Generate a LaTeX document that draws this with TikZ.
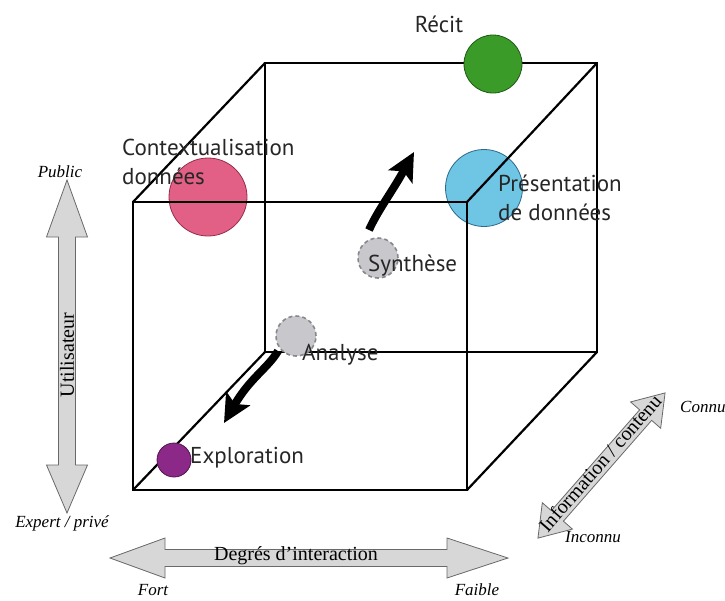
\documentclass[tikz,border=0pt]{standalone}
\usepackage{fontspec}
\setmainfont{Liberation Serif}
\newfontfamily\labelfont{PT Sans}
\usetikzlibrary{arrows.meta}
\definecolor{pinkf}{RGB}{226,96,134}
\definecolor{pinkd}{RGB}{150,45,75}
\definecolor{bluef}{RGB}{110,197,228}
\definecolor{blued}{RGB}{45,105,140}
\definecolor{greenf}{RGB}{58,155,40}
\definecolor{greend}{RGB}{30,90,20}
\definecolor{purplef}{RGB}{140,40,135}
\definecolor{purpled}{RGB}{80,20,80}
\definecolor{greyf}{RGB}{200,200,204}
\definecolor{greyd}{RGB}{135,135,140}
\definecolor{axisf}{RGB}{215,215,215}
\definecolor{axisd}{RGB}{105,105,105}
\begin{document}
\begin{tikzpicture}[x=1pt,y=-1pt,
  edge/.style={line width=2.2pt, black, line join=miter},
  lbl/.style={font=\labelfont\fontsize{23}{29}\selectfont, text=black!85, inner sep=0pt, align=left},
  dot/.style={circle, inner sep=0pt, line width=0.8pt},
  ghost/.style={circle, inner sep=0pt, fill=greyf, draw=greyd, line width=1.6pt, dash pattern=on 4pt off 3pt, minimum size=40pt},
  axisshape/.style={draw=axisd, fill=axisf, line width=0.8pt, line join=miter},
  axislbl/.style={font=\fontsize{20}{22}\selectfont, inner sep=0pt},
  pole/.style={font=\itshape\fontsize{17}{19}\selectfont, inner sep=0pt},
  flow/.style={line width=8pt, black, -{Stealth[length=28pt,width=27pt,inset=6pt]}}]
\useasboundingbox (0,0) rectangle (725,600);

% circles under the cube lines
\node[dot, fill=pinkf, draw=pinkd, minimum size=78pt] (ctxdot) at (208,197) {};
\node[dot, fill=bluef, draw=blued, minimum size=77pt] (presdot) at (484,188) {};

% cube
\coordinate (A) at (133,202);
\coordinate (B) at (467,202);
\coordinate (C) at (467,490);
\coordinate (D) at (133,490);
\coordinate (E) at (265,63);
\coordinate (F) at (597,63);
\coordinate (G) at (597,352);
\coordinate (H) at (265,352);
\draw[edge] (A) -- (B) -- (C) -- (D) -- cycle;
\draw[edge] (E) -- (F) -- (G) -- (H) -- cycle;
\draw[edge] (A) -- (E);
\draw[edge] (B) -- (F);
\draw[edge] (C) -- (G);
\draw[edge] (D) -- (H);

% circles over the cube lines
\node[dot, fill=greenf, draw=greend, minimum size=58pt] (recitdot) at (493,64) {};
\node[ghost] (syndot) at (378,258) {};
\node[ghost] (anadot) at (296,336) {};
\node[dot, fill=purplef, draw=purpled, minimum size=34pt] (expdot) at (174,460) {};

% flow arrows
\coordinate (s0) at (369,230);
\coordinate (s1) at (414,152);
\draw[flow] (s0) .. controls (378,210) and (392,192) .. (s1);
\coordinate (a0) at (278,351);
\coordinate (a1) at (224,423);
\draw[flow] (a0) .. controls (268,368) and (250,378) .. (a1);

% labels
\node[lbl, anchor=center] (recit) at (439,24) {Récit};
\node[lbl, anchor=north west] (ctx) at (122,139) {Contextualisation\\données};
\node[lbl, anchor=north west] (pres) at (498,175) {Présentation\\de données};
\node[lbl, anchor=west] (syn) at (368,266) {Synthèse};
\node[lbl, anchor=west] (ana) at (302,355) {Analyse};
\node[lbl, anchor=west] (exp) at (190,458) {Exploration};

% vertical axis: Utilisateur
\draw[axisshape] (67,180) -- (87.5,237) -- (75.5,237) -- (75.5,465) -- (87.5,465)
  -- (67,513) -- (46.5,465) -- (58.5,465) -- (58.5,237) -- (46.5,237) -- cycle;
\node[axislbl, rotate=90] (user) at (67,355) {Utilisateur};
\node[pole] (public) at (60,172) {Public};
\node[pole] (expert) at (62,523) {Expert / privé};

% horizontal axis: Degrés d'interaction
\draw[axisshape] (110,558) -- (165,538) -- (165,549.5) -- (447,549.5) -- (447,538)
  -- (508,558) -- (447,578) -- (447,566.5) -- (165,566.5) -- (165,578) -- cycle;
\node[axislbl] (deg) at (296,556) {Degrés d’interaction};
\node[pole] (fort) at (153,590) {Fort};
\node[pole] (faible) at (477,590) {Faible};

% diagonal axis: Information / contenu
\begin{scope}[shift={(601.5,465.5)}, rotate=48.8]
  \draw[axisshape] (-96.5,0) -- (-67,-20) -- (-67,-8) -- (67,-8) -- (67,-20)
    -- (96.5,0) -- (67,20) -- (67,8) -- (-67,8) -- (-67,20) -- cycle;
\end{scope}
\node[axislbl, rotate=48.8] (info) at (600,463) {Information / contenu};
\node[pole, anchor=west] (connu) at (680,407) {Connu};
\node[pole, anchor=west] (inconnu) at (565,537) {Inconnu};
\end{tikzpicture}
\end{document}
